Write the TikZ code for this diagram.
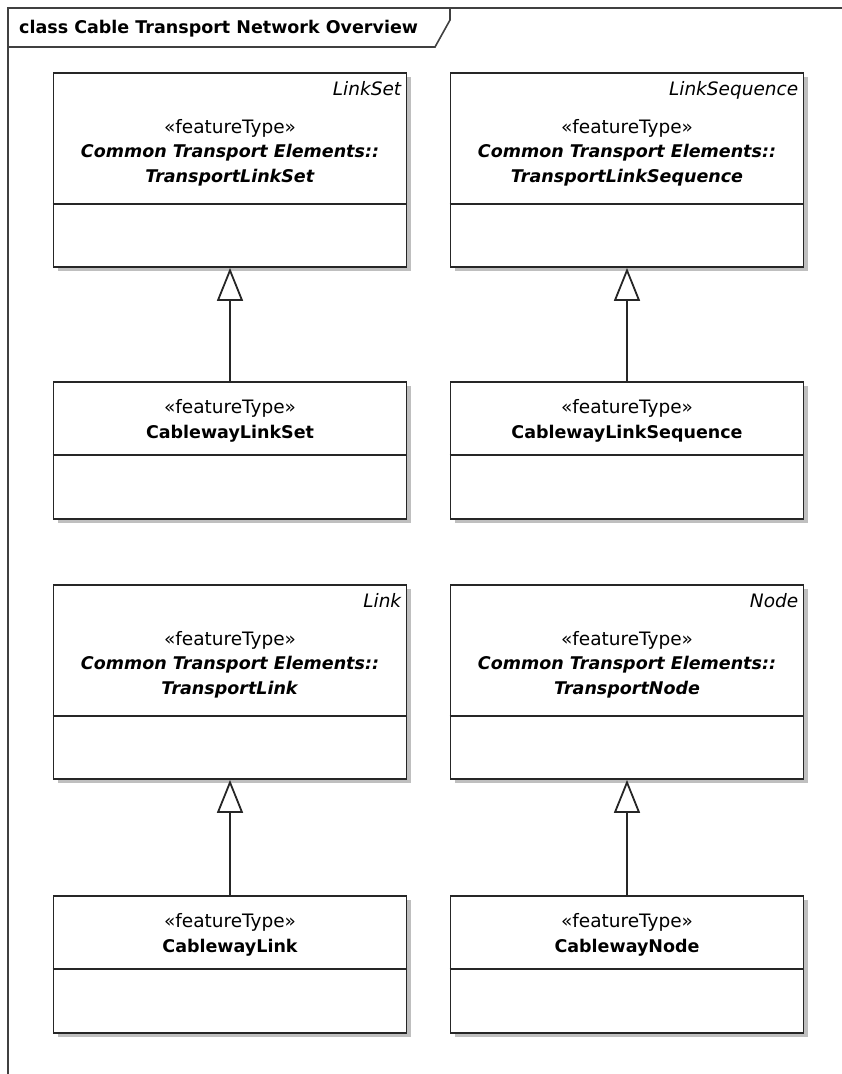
\documentclass[tikz,border=0pt]{standalone}
\usepackage{fontspec}
\setmainfont{DejaVu Sans}
\usetikzlibrary{arrows.meta,shadows}
\newcommand{\ftype}{{\fontsize{18.5}{24.5}\selectfont\mdseries «featureType»}}
\begin{document}
\begin{tikzpicture}
  [x=1pt,y=-1pt,
   classbox/.style={draw=black!85,line width=1.8pt,fill=white,inner sep=0pt,
     minimum width=353pt,minimum height=194pt,
     drop shadow={shadow xshift=4pt,shadow yshift=-4pt,fill=black!25,opacity=1}},
   smallbox/.style={classbox,minimum height=137pt},
   title/.style={align=center,anchor=base,font=\fontsize{17.5}{24.5}\selectfont\bfseries},
   tag/.style={anchor=base east,inner sep=0pt,font=\fontsize{18.5}{20}\selectfont\itshape},
   rule/.style={draw=black!85,line width=1.8pt},
   gen/.style={draw=black!85,line width=1.8pt,-{Triangle[open,length=33pt,width=26pt]}},
   frame/.style={draw=black!75,line width=1.6pt}]
 \useasboundingbox (0,0) rectangle (841,1074);

 % diagram frame
 \draw[frame] (8,1080) -- (8,8) -- (850,8);
 \draw[frame] (8,47) -- (435,47) -- (450,20) -- (450,8);
 \node (ttl)[anchor=base west,inner sep=0pt,font=\fontsize{17.5}{20}\selectfont\bfseries] at (19,33)
   {class Cable Transport Network Overview};

 % classes
 \node (lset)[classbox] at (230,170) {};
 \node (lseq)[classbox] at (627,170) {};
 \node (cwlset)[smallbox] at (230,450.5) {};
 \node (cwlseq)[smallbox] at (627,450.5) {};
 \node (link)[classbox] at (230,682) {};
 \node (tnode)[classbox] at (627,682) {};
 \node (cwlink)[smallbox] at (230,964.5) {};
 \node (cwnode)[smallbox] at (627,964.5) {};

 \foreach \b/\d in {lset/132,lseq/132,link/132,tnode/132,cwlset/74,cwlseq/74,cwlink/74,cwnode/74}
    \draw[rule] ([yshift=-\d pt]\b.north west) -- ([yshift=-\d pt]\b.north east);

 % names (base = last line)
 \node (lsetT)[title] at ([yshift=-110pt]lset.north)
   {\ftype\\\textit{Common Transport Elements::}\\\textit{TransportLinkSet}};
 \node (lseqT)[title] at ([yshift=-110pt]lseq.north)
   {\ftype\\\textit{Common Transport Elements::}\\\textit{TransportLinkSequence}};
 \node (linkT)[title] at ([yshift=-110pt]link.north)
   {\ftype\\\textit{Common Transport Elements::}\\\textit{TransportLink}};
 \node (tnodeT)[title] at ([yshift=-110pt]tnode.north)
   {\ftype\\\textit{Common Transport Elements::}\\\textit{TransportNode}};
 \node (cwlsetT)[title] at ([yshift=-57pt]cwlset.north) {\ftype\\CablewayLinkSet};
 \node (cwlseqT)[title] at ([yshift=-57pt]cwlseq.north) {\ftype\\CablewayLinkSequence};
 \node (cwlinkT)[title] at ([yshift=-57pt]cwlink.north) {\ftype\\CablewayLink};
 \node (cwnodeT)[title] at ([yshift=-57pt]cwnode.north) {\ftype\\CablewayNode};

 \node (lsetK)[tag] at ([xshift=-6pt,yshift=-23pt]lset.north east) {LinkSet};
 \node (lseqK)[tag] at ([xshift=-6pt,yshift=-23pt]lseq.north east) {LinkSequence};
 \node (linkK)[tag] at ([xshift=-6pt,yshift=-23pt]link.north east) {Link};
 \node (tnodeK)[tag] at ([xshift=-6pt,yshift=-23pt]tnode.north east) {Node};

 \foreach \from/\to in {cwlset/lset,cwlseq/lseq,cwlink/link,cwnode/tnode}
    \draw[gen] (\from) -- (\to);
\end{tikzpicture}
\end{document}
